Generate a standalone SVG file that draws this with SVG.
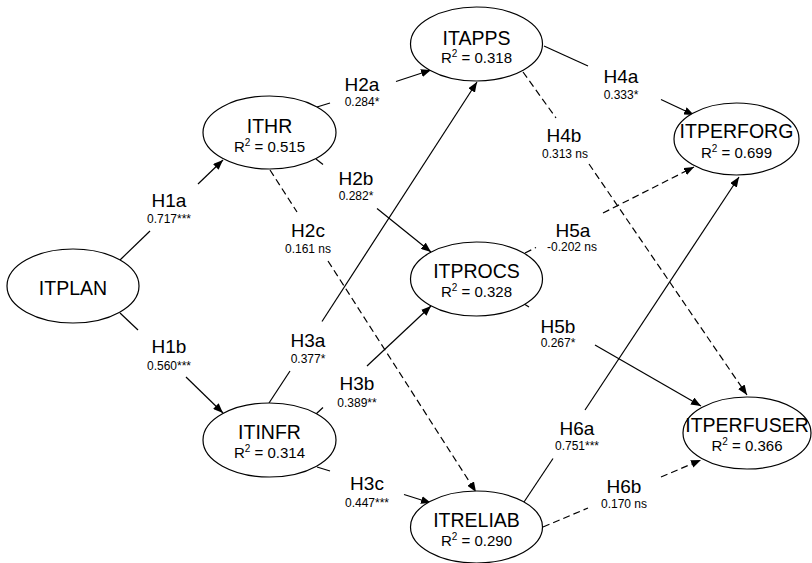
<svg xmlns="http://www.w3.org/2000/svg" width="812" height="563" viewBox="0 0 812 563">
<style>
.node ellipse{fill:#fff;stroke:#000;stroke-width:1.2}
.nm{font-family:"Liberation Sans",Arial,sans-serif;font-size:19.5px;text-anchor:middle;fill:#000}
.r2{font-family:"Liberation Sans",Arial,sans-serif;font-size:15px;text-anchor:middle;fill:#000}
.sup{font-size:10px}
.h{font-family:"Liberation Sans",Arial,sans-serif;font-size:19px;text-anchor:middle;fill:#000}
.v{font-family:"Liberation Sans",Arial,sans-serif;font-size:12px;text-anchor:middle;fill:#000}
.c line{stroke:#000;stroke-width:1.2;fill:none}
.c line.d{stroke-dasharray:7 4}
</style>
<defs>
<marker id="arr" markerUnits="userSpaceOnUse" markerWidth="10" markerHeight="8" refX="10" refY="4" orient="auto">
<path d="M0,0 L10,4 L0,8 z" fill="#000"/>
</marker>
</defs>
<rect width="812" height="563" fill="#fff"/>
<g id="connectors" class="c">
<!-- H1a -->
<line x1="120" y1="260" x2="150" y2="231"/>
<line x1="198" y1="184" x2="223" y2="160" marker-end="url(#arr)"/>
<!-- H1b -->
<line x1="120" y1="313" x2="138" y2="330"/>
<line x1="186" y1="377" x2="223" y2="413" marker-end="url(#arr)"/>
<!-- H2a -->
<line x1="317" y1="107" x2="330" y2="103"/>
<line x1="396" y1="81.5" x2="431" y2="70" marker-end="url(#arr)"/>
<!-- H2b -->
<line x1="316" y1="159" x2="323" y2="164.5"/>
<line x1="377" y1="208.5" x2="431" y2="252" marker-end="url(#arr)"/>
<!-- H2c -->
<line class="d" x1="270" y1="170" x2="297" y2="212"/>
<line class="d" x1="328" y1="261" x2="476" y2="492" marker-end="url(#arr)"/>
<!-- H3a -->
<line x1="269" y1="403" x2="290" y2="371"/>
<line x1="322" y1="321.5" x2="477" y2="82" marker-end="url(#arr)"/>
<!-- H3b -->
<line x1="316" y1="414" x2="323" y2="407.5"/>
<line x1="367" y1="366" x2="431" y2="306" marker-end="url(#arr)"/>
<!-- H3c -->
<line x1="317" y1="467" x2="330" y2="471"/>
<line x1="404" y1="494.5" x2="431" y2="503" marker-end="url(#arr)"/>
<!-- H4a -->
<line x1="544" y1="46" x2="588" y2="66"/>
<line x1="661" y1="99.5" x2="694" y2="115" marker-end="url(#arr)"/>
<!-- H4b -->
<line class="d" x1="523" y1="72" x2="556" y2="118"/>
<line class="d" x1="589" y1="164" x2="747" y2="395" marker-end="url(#arr)"/>
<!-- H5a -->
<line class="d" x1="525" y1="253" x2="536" y2="247.5"/>
<line class="d" x1="603" y1="213" x2="694" y2="167" marker-end="url(#arr)"/>
<!-- H5b -->
<line x1="525" y1="304.5" x2="529" y2="307"/>
<line x1="595" y1="345" x2="701" y2="406" marker-end="url(#arr)"/>
<!-- H6a -->
<line x1="524" y1="502" x2="553" y2="458.5"/>
<line x1="585" y1="410" x2="739" y2="177" marker-end="url(#arr)"/>
<!-- H6b -->
<line class="d" x1="543" y1="527" x2="588" y2="508"/>
<line class="d" x1="661" y1="477" x2="701" y2="460" marker-end="url(#arr)"/>
</g>
<g id="labels">
<text class="h" x="169" y="207">H1a</text><text class="v" x="169" y="223">0.717***</text>
<text class="h" x="169" y="353">H1b</text><text class="v" x="169" y="370">0.560***</text>
<text class="h" x="362" y="91">H2a</text><text class="v" x="362" y="106">0.284*</text>
<text class="h" x="356" y="185">H2b</text><text class="v" x="356" y="200">0.282*</text>
<text class="h" x="308" y="237">H2c</text><text class="v" x="308" y="253">0.161 ns</text>
<text class="h" x="308" y="347">H3a</text><text class="v" x="308" y="363">0.377*</text>
<text class="h" x="357" y="390">H3b</text><text class="v" x="357" y="407">0.389**</text>
<text class="h" x="367" y="490">H3c</text><text class="v" x="367" y="507">0.447***</text>
<text class="h" x="621" y="83">H4a</text><text class="v" x="621" y="99">0.333*</text>
<text class="h" x="564" y="142">H4b</text><text class="v" x="565" y="158">0.313 ns</text>
<text class="h" x="573" y="237">H5a</text><text class="v" x="572" y="251">-0.202 ns</text>
<text class="h" x="558" y="333">H5b</text><text class="v" x="558" y="347">0.267*</text>
<text class="h" x="577" y="435">H6a</text><text class="v" x="577" y="450">0.751***</text>
<text class="h" x="624" y="493">H6b</text><text class="v" x="624" y="508">0.170 ns</text>
</g>
<g id="ITPLAN" class="node">
<ellipse cx="73" cy="286" rx="66" ry="37"/>
<text class="nm" x="73" y="295">ITPLAN</text>
</g>
<g id="ITHR" class="node">
<ellipse cx="269.5" cy="132.5" rx="66.5" ry="36.5"/>
<text class="nm" x="269.5" y="133">ITHR</text>
<text class="r2" x="269.5" y="152">R<tspan class="sup" dy="-6">2</tspan><tspan dy="6"> = 0.515</tspan></text>
</g>
<g id="ITINFR" class="node">
<ellipse cx="269.5" cy="440" rx="66.5" ry="37"/>
<text class="nm" x="269.5" y="439">ITINFR</text>
<text class="r2" x="269.5" y="458">R<tspan class="sup" dy="-6">2</tspan><tspan dy="6"> = 0.314</tspan></text>
</g>
<g id="ITAPPS" class="node">
<ellipse cx="476.5" cy="44" rx="66" ry="37"/>
<text class="nm" x="476.5" y="45">ITAPPS</text>
<text class="r2" x="476.5" y="63">R<tspan class="sup" dy="-6">2</tspan><tspan dy="6"> = 0.318</tspan></text>
</g>
<g id="ITPROCS" class="node">
<ellipse cx="476.5" cy="279" rx="66" ry="37"/>
<text class="nm" x="476.5" y="278">ITPROCS</text>
<text class="r2" x="476.5" y="297">R<tspan class="sup" dy="-6">2</tspan><tspan dy="6"> = 0.328</tspan></text>
</g>
<g id="ITRELIAB" class="node">
<ellipse cx="476.5" cy="527" rx="66" ry="36"/>
<text class="nm" x="476.5" y="527">ITRELIAB</text>
<text class="r2" x="476.5" y="546">R<tspan class="sup" dy="-6">2</tspan><tspan dy="6"> = 0.290</tspan></text>
</g>
<g id="ITPERFORG" class="node">
<ellipse cx="736.5" cy="139" rx="62.5" ry="36"/>
<text class="nm" x="736.5" y="138">ITPERFORG</text>
<text class="r2" x="736.5" y="158">R<tspan class="sup" dy="-6">2</tspan><tspan dy="6"> = 0.699</tspan></text>
</g>
<g id="ITPERFUSER" class="node">
<ellipse cx="747" cy="433" rx="64" ry="36"/>
<text class="nm" x="747" y="432">ITPERFUSER</text>
<text class="r2" x="747" y="451">R<tspan class="sup" dy="-6">2</tspan><tspan dy="6"> = 0.366</tspan></text>
</g>
</svg>
